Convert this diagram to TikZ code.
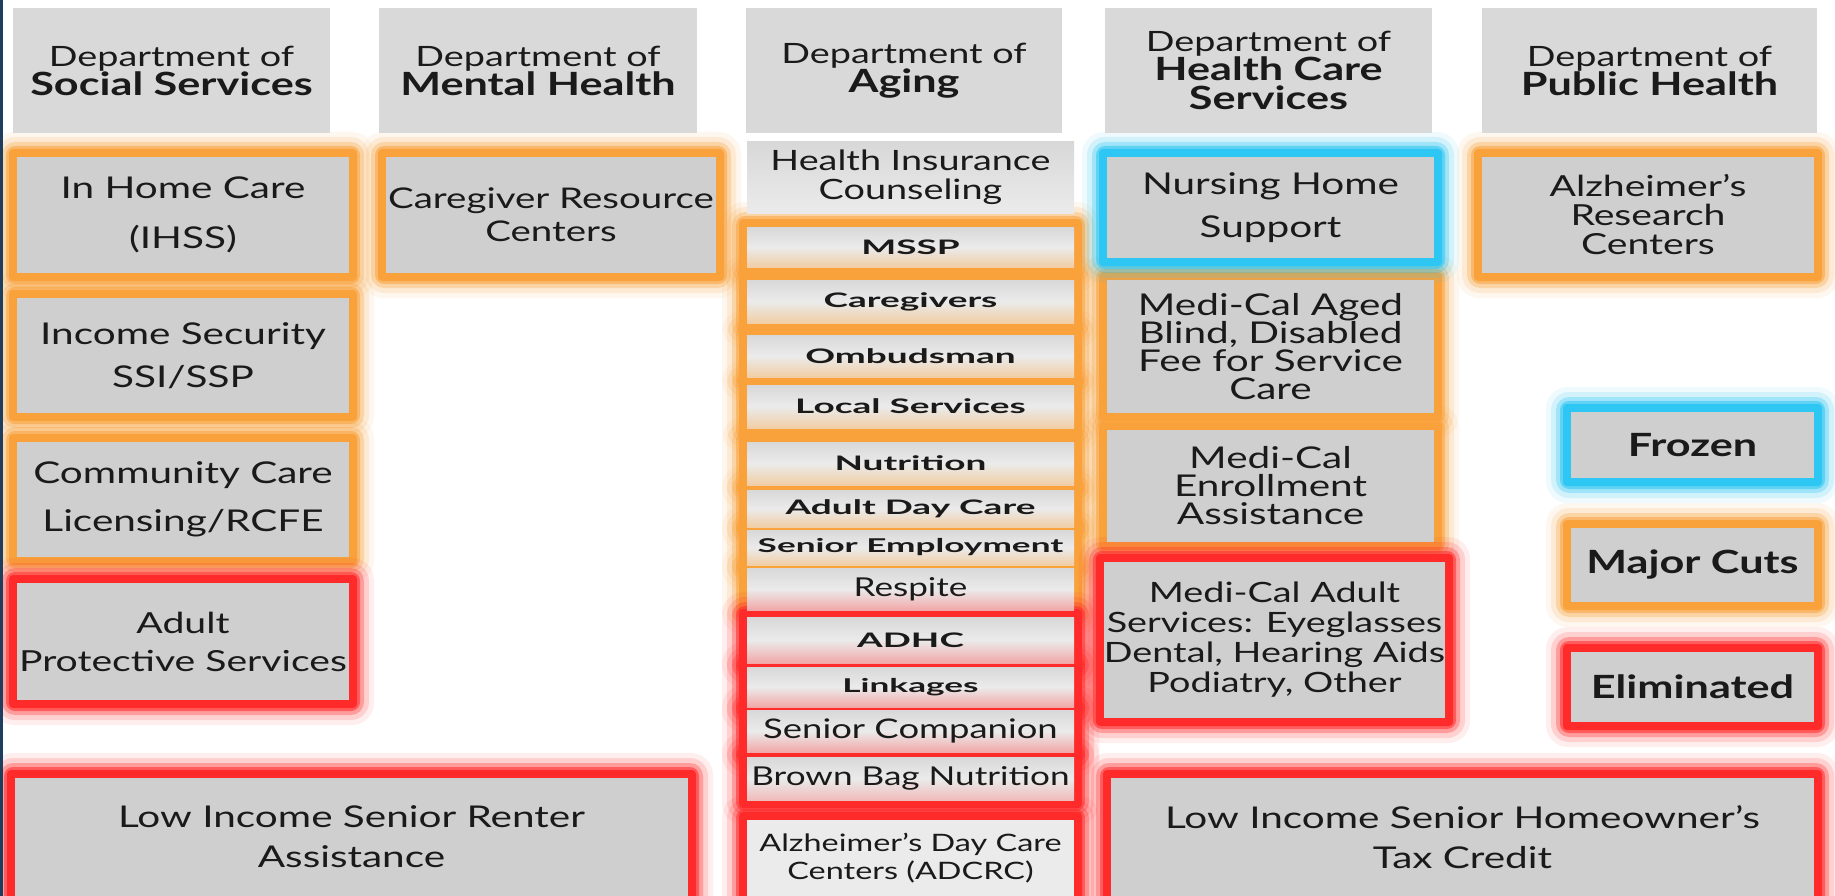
\documentclass[tikz,border=0pt]{standalone}
\usepackage{fontspec}
\setmainfont{Lato}[FakeStretch=1.35]
\newfontfamily\widefont{Lato}[FakeStretch=1.85]
\usetikzlibrary{calc,backgrounds}

\definecolor{hdrgray}{HTML}{D9D9D9}
\definecolor{boxgray}{HTML}{CFCFCF}
\definecolor{agtop}{HTML}{D8D8D8}
\definecolor{agmid}{HTML}{EBEBEB}
\definecolor{glowor}{HTML}{F9A23C}
\definecolor{glowred}{HTML}{FF2A2A}
\definecolor{glowcy}{HTML}{2EC6F2}
\definecolor{edgeblue}{HTML}{1F3D5C}
\definecolor{txt}{HTML}{1A1A1A}

\newcommand{\fs}[2]{\fontsize{#1}{#2}\selectfont}
\newcommand{\bx}[7]{\node[#1, minimum width={(#5)-(#3)}, minimum height={(#6)-(#4)}] (#2) at ({((#3)+(#5))/2},{((#4)+(#6))/2}) {#7};}
\newcommand{\glow}[2]{%
  \fill[#2, opacity=.08, rounded corners=22pt] ($(#1.north west)+(-25,-25)$) rectangle ($(#1.south east)+(25,25)$);
  \fill[#2, opacity=.15, rounded corners=18pt] ($(#1.north west)+(-20,-20)$) rectangle ($(#1.south east)+(20,20)$);
  \fill[#2, opacity=.3, rounded corners=13pt] ($(#1.north west)+(-15,-15)$) rectangle ($(#1.south east)+(15,15)$);
  \fill[#2, opacity=.55, rounded corners=9pt] ($(#1.north west)+(-11,-11)$) rectangle ($(#1.south east)+(11,11)$);
  \fill[#2, rounded corners=4pt] ($(#1.north west)+(-8,-8)$) rectangle ($(#1.south east)+(8,8)$);
}

\tikzset{
  base/.style={inner sep=0pt, outer sep=0pt, align=center, text=txt},
  hdr/.style={base, fill=hdrgray, font=\fs{28}{29}},
  gbox/.style={base, fill=boxgray},
  agebox/.style={base, top color=agtop, bottom color=#1, middle color=agmid},
  wide/.style={font=\widefont\bfseries\fs{20}{22}},
  widesmall/.style={font=\widefont\bfseries\fs{19}{21}},
  legend/.style={base, fill=boxgray, font=\bfseries\fs{32}{34}},
}

\begin{document}
\begin{tikzpicture}[x=1pt, y=-1pt]
\useasboundingbox (0,0) rectangle (1835,896);

% headers
\bx{hdr}{h1}{13}{8}{330}{133}{{Department of}\\{\bfseries\fs{32}{29}Social Services}}
\bx{hdr}{h2}{379}{8}{697}{133}{{Department of}\\{\bfseries\fs{32}{29}Mental Health}}
\bx{hdr}{h3}{746}{8}{1062}{133}{{Department of}\\{\bfseries\fs{32}{29}Aging}}
\bx{hdr}{h4}{1105}{8}{1432}{133}{{Department of}\\{\bfseries\fs{32}{29}Health Care}\\{\bfseries\fs{32}{29}Services}}
\bx{hdr}{h5}{1482}{8}{1817}{133}{{Department of}\\{\bfseries\fs{32}{29}Public Health}}

% column 1
\bx{gbox,font=\fs{30}{50}}{ihss}{17}{157}{349}{273}{In Home Care\\(IHSS)}
\bx{gbox,font=\fs{30}{43}}{incsec}{17}{298}{349}{413}{Income Security\\SSI/SSP}
\bx{gbox,font=\fs{30}{48}}{ccl}{17}{442}{349}{557}{Community Care\\Licensing/RCFE}
\bx{gbox,font=\fs{29}{38}}{aps}{17}{583}{349}{700}{Adult\\Protective Services}
\bx{gbox,font=\fs{30}{40}}{renter}{15}{778}{688}{896}{Low Income Senior Renter\\Assistance}

% column 2
\bx{gbox,font=\fs{28.5}{33}}{crc}{386}{157}{716}{273}{Caregiver Resource\\Centers}

% column 3
\bx{base,top color=agtop,bottom color=agmid,font=\fs{28}{29}}{hic}{747}{142}{1074}{213}{Health Insurance\\Counseling}
\bx{agebox=glowor!40!agmid,wide}{mssp}{747}{227}{1074}{267}{MSSP}
\bx{agebox=glowor!40!agmid,wide}{care}{747}{280}{1074}{323}{Caregivers}
\bx{agebox=glowor!40!agmid,wide}{omb}{747}{335}{1074}{377}{Ombudsman}
\bx{agebox=glowor!40!agmid,wide}{local}{747}{385}{1074}{428}{Local Services}
\bx{agebox=glowor!40!agmid,wide}{nutr}{747}{442}{1074}{485}{Nutrition}
\bx{agebox=glowor!40!agmid,wide}{adc}{747}{490}{1074}{527}{Adult Day Care}
\bx{agebox=glowor!40!agmid,widesmall}{semp}{747}{530}{1074}{565}{Senior Employment}
\bx{agebox=glowred!35!agmid,font=\fs{26}{28}}{resp}{747}{568}{1074}{610}{Respite}
\bx{agebox=glowred!35!agmid,wide}{adhc}{747}{617}{1074}{663}{ADHC}
\bx{agebox=glowred!35!agmid,widesmall}{link}{747}{667}{1074}{707}{Linkages}
\bx{agebox=glowred!35!agmid,font=\fs{27}{29}}{scomp}{747}{710}{1074}{752}{Senior Companion}
\bx{agebox=glowred!25!agmid,font=\fs{26}{28}}{bbn}{747}{757}{1074}{800}{Brown Bag Nutrition}
\bx{base,fill=agmid,font=\fs{24}{28}}{adcrc}{747}{820}{1074}{896}{Alzheimer’s Day Care\\Centers (ADCRC)}

% column 4
\bx{gbox,font=\fs{30}{43}}{nhs}{1107}{157}{1434}{258}{Nursing Home\\Support}
\bx{gbox,font=\fs{30}{28}}{mcaged}{1107}{280}{1434}{413}{Medi-Cal Aged\\Blind, Disabled\\Fee for Service\\Care}
\bx{gbox,font=\fs{30}{28}}{mcenr}{1107}{430}{1434}{542}{Medi-Cal\\Enrollment\\Assistance}
\bx{gbox,font=\fs{28}{30}}{mcadult}{1106}{562}{1443}{718}{Medi-Cal Adult\\Services: Eyeglasses\\Dental, Hearing Aids\\Podiatry, Other}
\bx{gbox,font=\fs{30}{40}}{homeowner}{1111}{778}{1814}{896}{Low Income Senior Homeowner’s\\Tax Credit}

% column 5
\bx{gbox,font=\fs{29}{29}}{alzr}{1482}{157}{1814}{273}{Alzheimer’s\\Research\\Centers}
\bx{legend}{frozen}{1571}{412}{1814}{478}{Frozen}
\bx{legend}{major}{1571}{528}{1814}{602}{Major Cuts}
\bx{legend}{elim}{1571}{652}{1814}{722}{Eliminated}

\begin{scope}[on background layer]
  \clip (0,0) rectangle (1835,896);
  \fill[white] (0,0) rectangle (1835,896);
  \foreach \n in {ihss,incsec,ccl,crc,mssp,care,omb,local,nutr,adc,semp,resp,mcaged,mcenr,alzr,major}{\glow{\n}{glowor}}
  \foreach \n in {nhs,frozen}{\glow{\n}{glowcy}}
  \foreach \n in {aps,renter,adhc,link,scomp,bbn,adcrc,mcadult,homeowner,elim}{\glow{\n}{glowred}}
\end{scope}

\fill[edgeblue] (0,0) rectangle (3,896);
\end{tikzpicture}
\end{document}
